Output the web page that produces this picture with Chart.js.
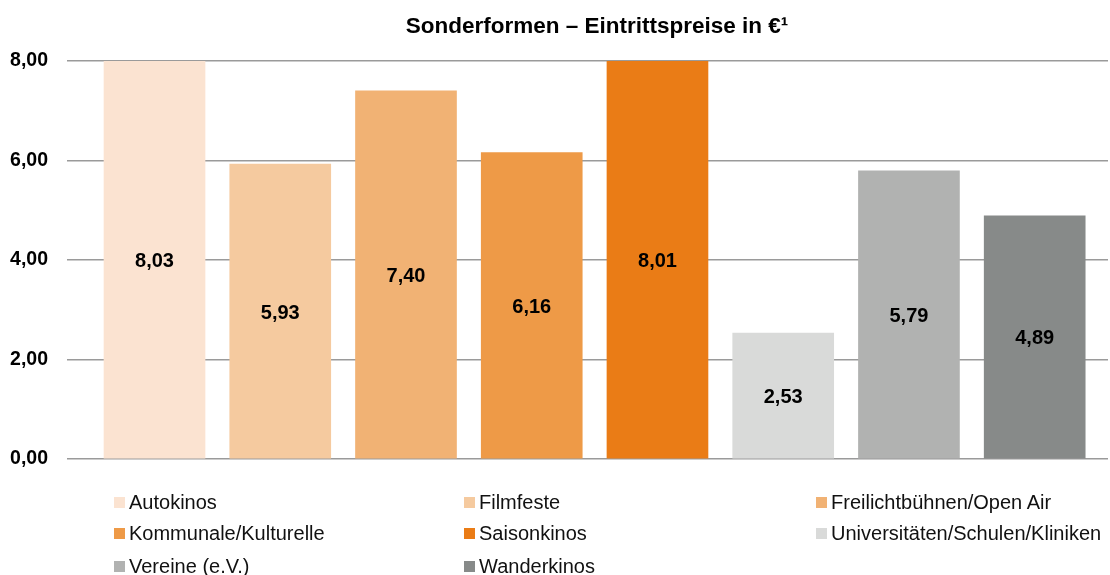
<!DOCTYPE html>
<html>
<head>
<meta charset="utf-8">
<script src="https://cdn.jsdelivr.net/npm/chart.js@4.4.1/dist/chart.umd.min.js"></script>
<style>
  html, body { margin: 0; padding: 0; background: #fff; }
  #wrap { position: relative; width: 1110px; height: 575px; font-family: "Liberation Sans", Arial, sans-serif; }
  #title { position: absolute; left: 0; top: 13px; width: 1194px; text-align: center; font-weight: bold; font-size: 22.5px; color: #000; }
  #legend { position: absolute; left: 0; top: 0; width: 1110px; height: 575px; pointer-events: none; }
  .item { position: absolute; display: flex; align-items: center; font-size: 20px; color: #111; white-space: nowrap; height: 22px; }
  .box { width: 11px; height: 11px; margin-right: 4px; }
</style>
</head>
<body>
<div id="wrap">
  <canvas id="chart" width="1110" height="575"></canvas>
  <div id="title"></div>
  <div id="legend"></div>
</div>
<script>
const categories = ["Autokinos", "Filmfeste", "Freilichtbühnen/Open Air", "Kommunale/Kulturelle",
  "Saisonkinos", "Universitäten/Schulen/Kliniken", "Vereine (e.V.)", "Wanderkinos"];
const prices = [8.03, 5.93, 7.40, 6.16, 8.01, 2.53, 5.79, 4.89];
const colors = ["#FBE3D1", "#F5CA9F", "#F1B274", "#EE9A47", "#EA7C16", "#D9DAD9", "#B1B2B1", "#878A89"];
const yTicks = [0, 2, 4, 6, 8];
const title = "Sonderformen – Eintrittspreise in €¹";

const fmt = v => v.toFixed(2).replace(".", ",");

document.getElementById("title").textContent = title;

// labels in the middle of each bar
const barLabels = {
  id: "barLabels",
  afterDatasetsDraw(chart) {
    const ctx = chart.ctx;
    const top = chart.chartArea.top;
    ctx.save();
    ctx.font = "bold 20px 'Liberation Sans', Arial";
    ctx.fillStyle = "#000";
    ctx.textAlign = "center";
    ctx.textBaseline = "middle";
    chart.getDatasetMeta(0).data.forEach((bar, i) => {
      const y = (Math.max(bar.y, top) + bar.base) / 2 + 2;
      ctx.fillText(fmt(prices[i]), bar.x, y);
    });
    ctx.restore();
  }
};

new Chart(document.getElementById("chart"), {
  type: "bar",
  data: {
    datasets: [{
      data: prices.map((v, i) => ({ x: i, y: v })),
      backgroundColor: colors,
      borderWidth: 0,
      barThickness: 101
    }]
  },
  options: {
    responsive: false,
    animation: false,
    layout: { padding: { left: 0, right: 2, top: 61, bottom: 116 } },
    plugins: {
      legend: { display: false },
      tooltip: { enabled: false }
    },
    scales: {
      x: {
        type: "linear",
        display: false,
        offset: false,
        min: -0.696,
        max: 7.583
      },
      y: {
        min: 0,
        max: 8,
        afterFit: s => { s.width = 67; },
        afterBuildTicks: s => { s.ticks = yTicks.map(v => ({ value: v })); },
        border: { display: false },
        grid: { color: "#9a9a9a", lineWidth: 1.6, drawTicks: false },
        ticks: {
          padding: 19,
          color: "#000",
          font: { family: "'Liberation Sans', Arial", size: 19.5, weight: "bold" },
          callback: v => fmt(v)
        }
      }
    }
  },
  plugins: [barLabels]
});

// legend laid out in three columns
const legend = document.getElementById("legend");
const colX = [114, 464, 816];
const rowY = [491, 522, 555];
categories.forEach((name, i) => {
  const el = document.createElement("div");
  el.className = "item";
  el.style.left = colX[i % 3] + "px";
  el.style.top = rowY[Math.floor(i / 3)] + "px";
  el.innerHTML = '<span class="box" style="background:' + colors[i] + '"></span>' + name;
  legend.appendChild(el);
});
</script>
</body>
</html>
